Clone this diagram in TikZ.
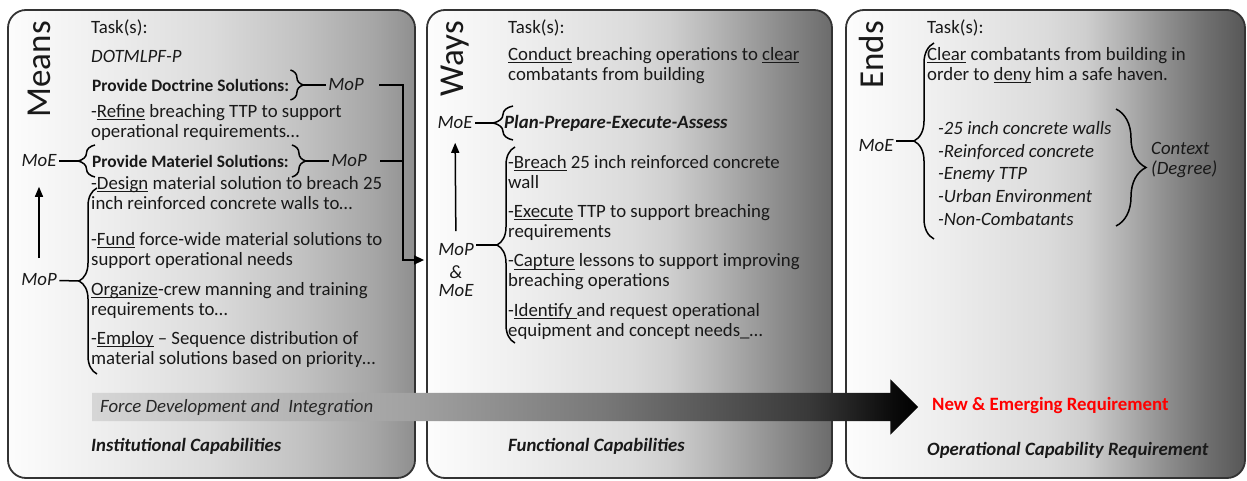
\documentclass[tikz,border=0pt]{standalone}
\usepackage{fontspec}
\setmainfont{Carlito}
\usetikzlibrary{positioning}
\usetikzlibrary{shapes.arrows}
\usetikzlibrary{arrows.meta}
\usetikzlibrary{decorations.pathreplacing}
\pgfdeclarehorizontalshading{meansshade}{100bp}{color(0bp)=(black!1); color(25bp)=(black!1); color(37.5bp)=(black!7); color(50bp)=(black!14); color(61bp)=(black!24); color(70bp)=(black!35); color(75bp)=(black!44); color(100bp)=(black!44)}
\pgfdeclarehorizontalshading{waysshade}{100bp}{color(0bp)=(black!1); color(25bp)=(black!1); color(37.5bp)=(black!7); color(50bp)=(black!14); color(55bp)=(black!19); color(60bp)=(black!28); color(65bp)=(black!38); color(70bp)=(black!48); color(75bp)=(black!58); color(100bp)=(black!58)}
\pgfdeclarehorizontalshading{endsshade}{100bp}{color(0bp)=(black!1); color(25bp)=(black!1); color(37.5bp)=(black!7); color(50bp)=(black!14); color(55bp)=(black!19); color(60bp)=(black!31); color(65bp)=(black!44); color(70bp)=(black!56); color(75bp)=(black!66); color(100bp)=(black!66)}
\pgfdeclarehorizontalshading{flowshade}{100bp}{color(0bp)=(black!16); color(25bp)=(black!16); color(44.5bp)=(black!37); color(56bp)=(black!53); color(68.5bp)=(black!78); color(73.5bp)=(black!96); color(75bp)=(black); color(100bp)=(black)}
\newcommand{\undl}[1]{\setbox0\hbox{#1}\rlap{\rule[-2.6pt]{\wd0}{0.9pt}}\box0\relax}
\tikzset{
	panel/.style={
		draw=black!80,
		line width=1.8pt,
		rounded corners=18pt,
		minimum height=468pt,
		inner sep=0pt
	},
	title/.style={rotate=90, anchor=base east, inner sep=0pt, text=black!90, font=\fontsize{35}{35}\selectfont},
	txt/.style={anchor=west, align=left, inner sep=0pt, text=black!90, font=\fontsize{18.8}{20}\selectfont},
	txtbf/.style={txt, font=\fontsize{17.4}{20}\selectfont\bfseries},
	txtit/.style={txt, font=\fontsize{18.8}{20}\selectfont\itshape},
	txtbfit/.style={txt, font=\fontsize{18.8}{20}\selectfont\bfseries\itshape},
	lbl/.style={inner sep=2.5pt, text=black!90, font=\fontsize{18.8}{20}\selectfont\itshape},
	bracket/.style={decorate, decoration={brace, amplitude=#1}, line width=1.5pt},
	bracket/.default=17pt,
	link/.style={line width=1.5pt},
	uparrow/.style={link, -{Triangle[length=10pt, width=8pt]}}
}

\begin{document}
\begin{tikzpicture}[x=1pt, y=-1pt]
	\useasboundingbox (0,0) rectangle (1247,481);
	% panels
	\draw node[panel, shading=meansshade, minimum width=407pt](MeansBox) at (211.5,244){};
	\draw node[panel, shading=waysshade, minimum width=405pt](WaysBox) at (629.5,244){};
	\draw node[panel, shading=endsshade, minimum width=399pt](EndsBox) at (1045.5,244){};
	\draw node[title](Means) at (50,21){Means};
	\draw node[title](Ways) at (463,21){Ways};
	\draw node[title](Ends) at (883,21){Ends};
	
	% big arrow
	\draw node[single arrow, shading=flowshade, minimum height=826pt, minimum width=55pt, single arrow head extend=13.5pt, inner xsep=0pt, inner ysep=14pt](Flow) at (498,407){};
	\draw node[txtit, text=black!85](FlowText) at (100,408){Force Development and \ Integration};
	\draw node[txt, font=\fontsize{18.8}{20}\selectfont\bfseries, text=red](NewReq) at (932,405){New \& Emerging Requirement};
	
	% means
	\draw node[txt](TaskMeans) at (91,28){Task(s):};
	\draw node[txtit](Dotmlpf) at (91,56){DOTMLPF-P};
	\draw node[txtbf](Doctrine) at (92,85){Provide Doctrine Solutions:};
	\draw node[txt](Refine) at (91,122.5){-\undl{Refine} breaching TTP to support\\operational requirements…};
	\draw node[txtbf](Materiel) at (92,161){Provide Materiel Solutions:};
	\draw node[txt](Design) at (91,193){-\undl{Design} material solution to breach 25\\inch reinforced concrete walls to…};
	\draw node[txt](Fund) at (91,250.5){-\undl{Fund} force-wide material solutions to\\support operational needs};
	\draw node[txt](Organize) at (91,300){\undl{Organize}-crew manning and training\\requirements to…};
	\draw node[txt](Employ) at (91,349.5){-\undl{Employ} – Sequence distribution of\\material solutions based on priority…};
	\draw node[txtbfit](Institutional) at (91,446){Institutional Capabilities};
	
	\draw node[lbl](MoPDoc) at (346,85){MoP};
	\draw node[lbl](MoPMat) at (349,161){MoP};
	\draw node[lbl](MoEMeans) at (39,161){MoE};
	\draw node[lbl](MoPMeans) at (39,280){MoP};
	\coordinate (DocTip) at ([xshift=14pt]Doctrine.east);
	\coordinate (MatTip) at ([xshift=17pt]Materiel.east);
	\coordinate (MatLeftTip) at (78,161);
	\coordinate (MeansTip) at (79,281);
	\coordinate (Join) at (403,260);
	\draw[bracket=13pt] ([xshift=1pt, yshift=15pt]Doctrine.east) -- ([xshift=1pt, yshift=-15pt]Doctrine.east);
	\draw[bracket=14pt] ([xshift=3pt, yshift=16pt]Materiel.east) -- ([xshift=3pt, yshift=-16pt]Materiel.east);
	\draw[bracket] (95,177) -- (95,145);
	\draw[bracket=18pt] (97,374) -- (97,188);
	\draw[link] (DocTip) -- (MoPDoc);
	\draw[link] (MatTip) -- (MoPMat);
	\draw[link] (MoEMeans) -- (MatLeftTip);
	\draw[link] (MoPMeans) -- (MeansTip);
	\draw[uparrow, shorten <=13pt, shorten >=17pt] (MoPMeans) -- (MoEMeans);
	\draw[link] ([xshift=13pt]MoPDoc.east) -| (Join);
	\draw[link, -{Triangle[length=10pt, width=9pt]}, shorten >=2pt] ([xshift=11pt]MoPMat.east) -| (Join) -- (WaysBox.west |- Join);
	
	% ways
	\draw node[txt](TaskWays) at (508,28){Task(s):};
	\draw node[txt](Conduct) at (508,65.5){\undl{Conduct} breaching operations to \undl{clear}\\combatants from building};
	\draw node[txtbfit](Plan) at (504,123){Plan-Prepare-Execute-Assess};
	\draw node[txt](Breach) at (508,172){-\undl{Breach} 25 inch reinforced concrete\\wall};
	\draw node[txt](Execute) at (508,222){-\undl{Execute} TTP to support breaching\\requirements};
	\draw node[txt](Capture) at (508,272){-\undl{Capture} lessons to support improving\\breaching operations};
	\draw node[txt](Identify) at (508,321){-\undl{Identify }and request operational\\equipment and concept needs\_…};
	\draw node[txtbfit](Functional) at (508,446){Functional Capabilities};
	
	\draw node[lbl](MoEWays) at (455,123){MoE};
	\draw node[lbl](MoPWays) at (456,250){MoP};
	\draw node[lbl](AndWays) at (456,272){\&};
	\draw node[lbl](MoEWaysLow) at (456,291){MoE};
	\coordinate (PlanTip) at (493,123);
	\coordinate (WaysTip) at (497,245);
	\draw[bracket=20pt] (513,140) -- (513,106);
	\draw[bracket=18pt] (515,343) -- (515,147);
	\draw[link] (MoEWays) -- (PlanTip);
	\draw[link] (MoPWays.east |- WaysTip) -- (WaysTip);
	\draw[uparrow, shorten <=10pt, shorten >=11pt] (MoPWays) -- (MoEWays);
	
	% ends
	\draw node[txt](TaskEnds) at (927,28){Task(s):};
	\draw node[txt](Clear) at (927,65.5){\undl{Clear} combatants from building in\\order to \undl{deny} him a safe haven.};
	\draw node[txtit, font=\fontsize{18.8}{22.75}\selectfont\itshape](Context) at (938,173.5){-25 inch concrete walls\\-Reinforced concrete\\-Enemy TTP\\-Urban Environment\\-Non-Combatants};
	\draw node[txtit](Degree) at (1151,160.5){Context\\(Degree)};
	\draw node[txtbfit](Operational) at (927,450){Operational Capability Requirement};
	
	\draw node[lbl](MoEEnds) at (876,146){MoE};
	\coordinate (EndsTip) at (914,141);
	\draw[bracket=20pt] (934,239) -- (934,43);
	\draw[bracket=30pt] (1116,109) -- (1116,226);
	\draw[link] (MoEEnds.east |- EndsTip) -- (EndsTip);
\end{tikzpicture}
\end{document}
